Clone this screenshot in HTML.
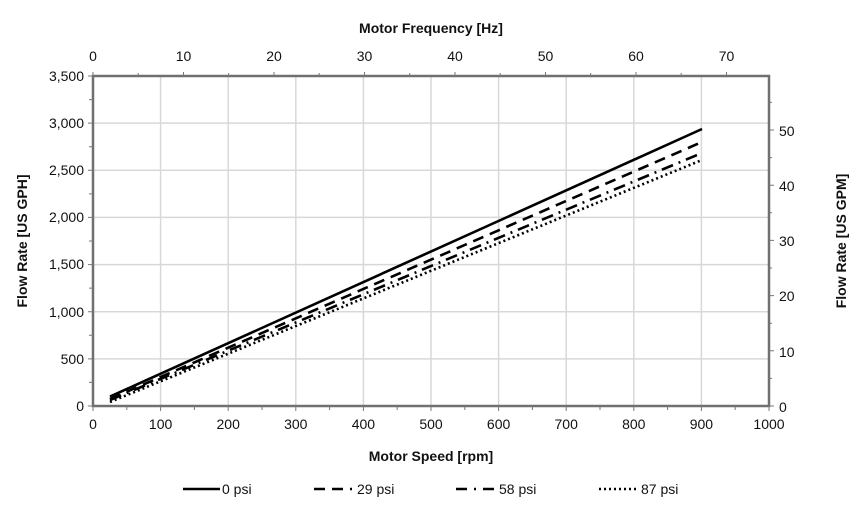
<!DOCTYPE html>
<html><head><style>body{margin:0;background:#fff}svg text{font-family:"Liberation Sans",sans-serif;font-size:14px;fill:#111}</style></head><body>
<svg width="859" height="513" xmlns="http://www.w3.org/2000/svg">
<g stroke="#d8d8d8" stroke-width="1.5">
<line x1="160.6" y1="76" x2="160.6" y2="406"/><line x1="228.2" y1="76" x2="228.2" y2="406"/><line x1="295.8" y1="76" x2="295.8" y2="406"/><line x1="363.4" y1="76" x2="363.4" y2="406"/><line x1="431" y1="76" x2="431" y2="406"/><line x1="498.6" y1="76" x2="498.6" y2="406"/><line x1="566.2" y1="76" x2="566.2" y2="406"/><line x1="633.8" y1="76" x2="633.8" y2="406"/><line x1="701.4" y1="76" x2="701.4" y2="406"/>
<line x1="93" y1="123.1" x2="769" y2="123.1"/><line x1="93" y1="170.3" x2="769" y2="170.3"/><line x1="93" y1="217.4" x2="769" y2="217.4"/><line x1="93" y1="264.6" x2="769" y2="264.6"/><line x1="93" y1="311.7" x2="769" y2="311.7"/><line x1="93" y1="358.9" x2="769" y2="358.9"/>
</g>
<rect x="93" y="76" width="676" height="330" fill="none" stroke="#707070" stroke-width="2.5"/>
<g stroke="#777" stroke-width="1">
<path d="M88 76h5M88 123.1h5M88 170.3h5M88 217.4h5M88 264.6h5M88 311.7h5M88 358.9h5M88 406h5M89 99.6h4M89 146.7h4M89 193.9h4M89 241h4M89 288.1h4M89 335.3h4M89 382.4h4"/>
<path d="M93 406v5M160.6 406v5M228.2 406v5M295.8 406v5M363.4 406v5M431 406v5M498.6 406v5M566.2 406v5M633.8 406v5M701.4 406v5M769 406v5M126.8 406v4M194.4 406v4M262 406v4M329.6 406v4M397.2 406v4M464.8 406v4M532.4 406v4M600 406v4M667.6 406v4M735.2 406v4"/>
<path d="M93 76v-4M183.5 76v-4M274 76v-4M364.5 76v-4M455 76v-4M545.5 76v-4M636 76v-4M726.5 76v-4M138.2 76v-3M228.7 76v-3M319.2 76v-3M409.7 76v-3M500.2 76v-3M590.7 76v-3M681.2 76v-3"/>
<path d="M769 406h5M769 350.8h5M769 295.6h5M769 240.4h5M769 185.2h5M769 130h5M769 378.4h3M769 323.2h3M769 268h3M769 212.8h3M769 157.6h3M769 102.4h3"/>
</g>
<g fill="none" stroke="#000" stroke-width="2.6">
<line x1="110" y1="396.6" x2="702" y2="129"/>
<line x1="110" y1="399" x2="702" y2="142" stroke-dasharray="11,7"/>
<line x1="110" y1="400" x2="702" y2="153" stroke-dasharray="12,6,2,6"/>
<line x1="110" y1="402" x2="702" y2="160" stroke-dasharray="2,3"/>
</g>
<g text-anchor="end">
<text x="84" y="81">3,500</text><text x="84" y="128">3,000</text><text x="84" y="175">2,500</text><text x="84" y="222">2,000</text><text x="84" y="269">1,500</text><text x="84" y="317">1,000</text><text x="84" y="364">500</text><text x="84" y="411">0</text>
</g>
<g text-anchor="middle">
<text x="93" y="429">0</text><text x="160.6" y="429">100</text><text x="228.2" y="429">200</text><text x="295.8" y="429">300</text><text x="363.4" y="429">400</text><text x="431" y="429">500</text><text x="498.6" y="429">600</text><text x="566.2" y="429">700</text><text x="633.8" y="429">800</text><text x="701.4" y="429">900</text><text x="769" y="429">1000</text>
<text x="93" y="61">0</text><text x="183.5" y="61">10</text><text x="274" y="61">20</text><text x="364.5" y="61">30</text><text x="455" y="61">40</text><text x="545.5" y="61">50</text><text x="636" y="61">60</text><text x="726.5" y="61">70</text>
<text x="431" y="461" font-weight="bold">Motor Speed [rpm]</text>
<text x="431" y="33" font-weight="bold">Motor Frequency [Hz]</text>
<text transform="translate(27,241) rotate(-90)" font-weight="bold">Flow Rate [US GPH]</text>
<text transform="translate(846,241) rotate(-90)" font-weight="bold">Flow Rate [US GPM]</text>
</g>
<g>
<text x="779" y="412">0</text><text x="779" y="357">10</text><text x="779" y="301">20</text><text x="779" y="246">30</text><text x="779" y="191">40</text><text x="779" y="136">50</text>
</g>
<g stroke="#000" stroke-width="2.5">
<line x1="183" y1="489" x2="220" y2="489"/>
<line x1="314" y1="489" x2="352" y2="489" stroke-dasharray="11,7"/>
<line x1="456" y1="489" x2="498" y2="489" stroke-dasharray="11,7,2,7"/>
<line x1="599" y1="489" x2="638" y2="489" stroke-dasharray="2,3"/>
</g>
<text x="222" y="494">0 psi</text><text x="357" y="494">29 psi</text><text x="499" y="494">58 psi</text><text x="641" y="494">87 psi</text>
</svg>
</body></html>
